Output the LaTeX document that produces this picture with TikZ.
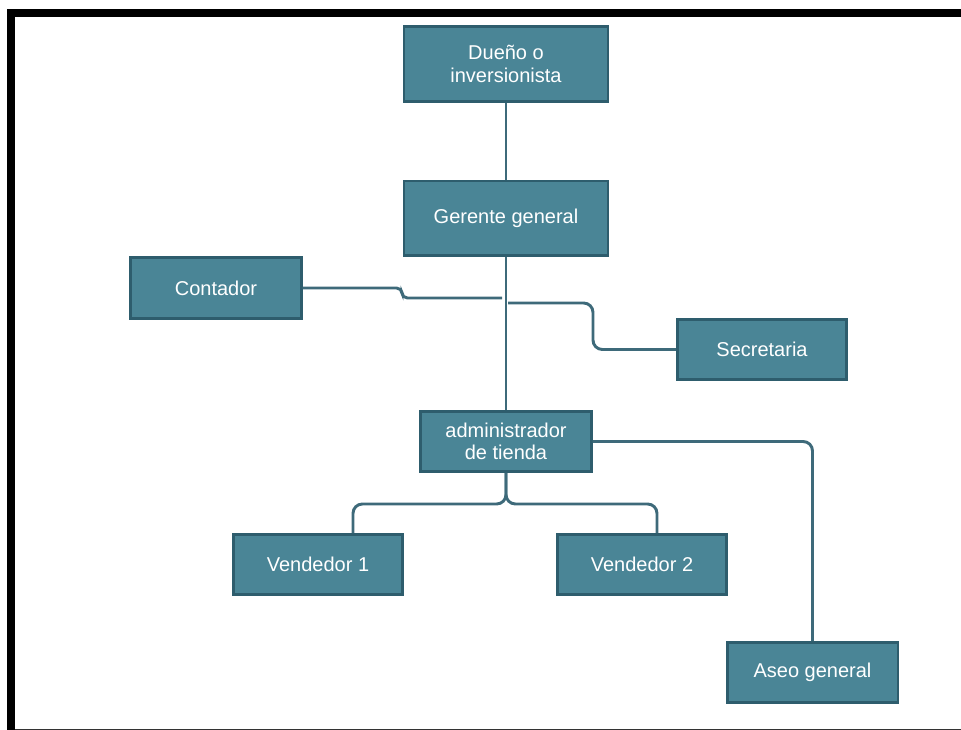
\documentclass[tikz,border=0pt]{standalone}
\usepackage{fontspec}
\setmainfont{Liberation Sans}
\definecolor{boxfill}{HTML}{4A8596}
\definecolor{boxline}{HTML}{2E5D6D}
\definecolor{wire}{HTML}{3E6A7A}
\begin{document}
\begin{tikzpicture}[x=0.75pt, y=-0.75pt,
  puesto/.style={rectangle, fill=boxfill, draw=boxline, line width=2pt, text=white,
    font=\fontsize{15}{17}\selectfont, align=center, inner sep=0pt},
  linea/.style={draw=wire, line width=2.2pt}]
\useasboundingbox (0,0) rectangle (961,730);
\fill[black] (7,9) rectangle (961,17);
\fill[black] (7,9) rectangle (15,730);
\draw[black!80, line width=0.9pt] (15,729.4) -- (961,729.4);
\node[puesto, minimum width=153pt, minimum height=56pt] (duenio) at (506,64){Due\~no o\\inversionista};
\node[puesto, minimum width=153pt, minimum height=56pt] (gerente) at (506,218.5){Gerente general};
\node[puesto, minimum width=128pt, minimum height=46pt] (contador) at (216,288){Contador};
\node[puesto, minimum width=127pt, minimum height=45pt] (secretaria) at (762,349.5){Secretaria};
\node[puesto, minimum width=128pt, minimum height=45pt] (admin) at (506,441.5){administrador\\de tienda};
\node[puesto, minimum width=127pt, minimum height=45pt] (vend1) at (318,564.5){Vendedor 1};
\node[puesto, minimum width=127pt, minimum height=45pt] (vend2) at (642,564.5){Vendedor 2};
\node[puesto, minimum width=128pt, minimum height=45pt] (aseo) at (812.5,672.5){Aseo general};
\coordinate (cj) at (502,298);
\coordinate (sj) at (508,303);
\coordinate (sk) at (593,349.5);
\coordinate (v1j) at (353,504);
\coordinate (v2j) at (657,504);
\draw[linea] (duenio) -- (gerente);
\draw[linea] (gerente) -- (admin);
\draw[linea, rounded corners=4pt] (contador.east) -| (402,298) -- (cj);
\draw[linea, rounded corners=7pt] (sj) -| (sk) -- (secretaria.west);
\draw[linea, rounded corners=7pt] (admin.east) -| (aseo.north);
\draw[linea, rounded corners=7pt] (admin.south) |- (v1j) -- (v1j |- vend1.north);
\draw[linea, rounded corners=7pt] (admin.south) |- (v2j) -- (v2j |- vend2.north);
\end{tikzpicture}
\end{document}
